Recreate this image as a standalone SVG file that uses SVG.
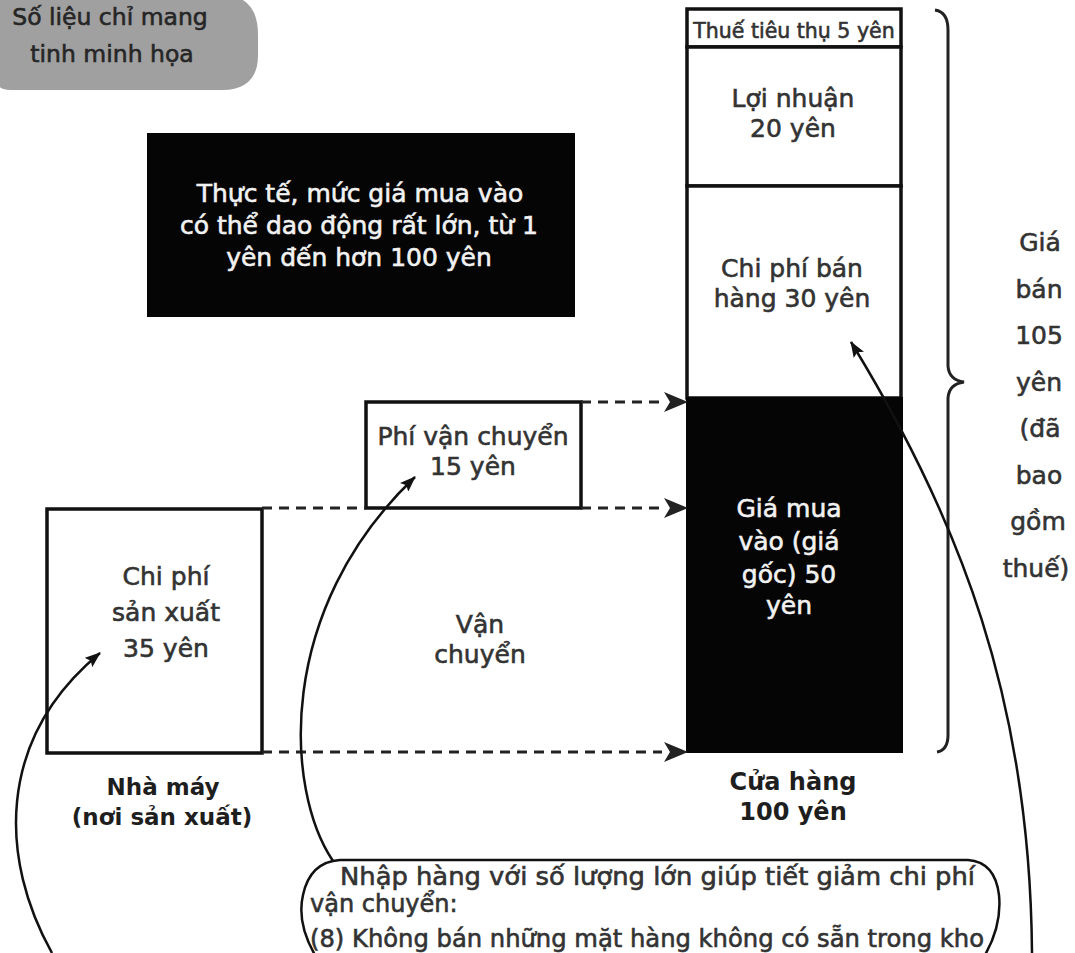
<svg xmlns="http://www.w3.org/2000/svg" width="1075" height="953" viewBox="0 0 1075 953">
<defs>
<style>
text{font-family:"DejaVu Sans","Liberation Sans",sans-serif;fill:#333;stroke:#333;stroke-width:0.6;}
.c{text-anchor:middle;}
.t25{font-size:25px;}
.w{fill:#f2f2f2;stroke:#f2f2f2;}
.b{font-weight:bold;fill:#1e1e1e;stroke:none;font-size:23px;}
.box{fill:#fff;stroke:#111;stroke-width:3.5;}
.dash{fill:none;stroke:#222;stroke-width:3;stroke-dasharray:10 7;}
.curve{fill:none;stroke:#111;stroke-width:2.5;}
</style>
<marker id="ah" viewBox="0 0 24 20" refX="23" refY="10" markerWidth="24" markerHeight="20" markerUnits="userSpaceOnUse" orient="auto">
<path d="M0 0 L24 10 L0 20 L6 10 Z" fill="#222"/>
</marker>
<marker id="ahs" viewBox="0 0 16 12" refX="15" refY="6" markerWidth="16" markerHeight="12" markerUnits="userSpaceOnUse" orient="auto">
<path d="M0 0 L16 6 L0 12 L3 6 Z" fill="#111"/>
</marker>
</defs>
<rect width="1075" height="953" fill="#fff"/>

<g id="note">
<path d="M-5 -5 H222 Q258 -5 258 35 V55 Q258 90 222 90 H10 Q-5 90 -5 75 Z" fill="#a0a0a0"/>
<text class="c" x="110" y="25" font-size="23.5" style="fill:#262626;stroke:#262626">Số liệu chỉ mang</text>
<text class="c" x="112" y="62" font-size="23.5" style="fill:#262626;stroke:#262626">tinh minh họa</text>
</g>

<g id="fact">
<rect x="147" y="133" width="428" height="184" fill="#050505"/>
<text class="c t25 w" x="360" y="202">Thực tế, mức giá mua vào</text>
<text class="c t25 w" x="359" y="234">có thể dao động rất lớn, từ 1</text>
<text class="c t25 w" x="359" y="266">yên đến hơn 100 yên</text>
</g>

<g id="tax">
<rect class="box" x="687" y="9" width="214" height="38"/>
<text class="c" x="794" y="38" font-size="20.5">Thuế tiêu thụ 5 yên</text>
</g>

<g id="profit">
<rect class="box" x="687" y="47" width="214" height="139"/>
<text class="c t25" x="793" y="107">Lợi nhuận</text>
<text class="c t25" x="793" y="137">20 yên</text>
</g>

<g id="selling">
<rect class="box" x="687" y="186" width="214" height="212"/>
<text class="c t25" x="792" y="277">Chi phí bán</text>
<text class="c t25" x="792" y="307">hàng 30 yên</text>
</g>

<g id="purchase">
<rect x="686" y="397" width="217" height="356" fill="#050505"/>
<text class="c t25 w" x="789" y="517">Giá mua</text>
<text class="c t25 w" x="789" y="550">vào (giá</text>
<text class="c t25 w" x="789" y="583">gốc) 50</text>
<text class="c t25 w" x="789" y="614">yên</text>
</g>

<g id="store-label">
<text class="c b" x="793" y="790" style="font-size:24px">Cửa hàng</text>
<text class="c b" x="793" y="820" style="font-size:24px">100 yên</text>
</g>

<g id="price-brace">
<path d="M935 10 Q948 12 948 30 L948 366 Q949 380 964 382 Q949 384 948 398 L948 735 Q948 750 937 752" fill="none" stroke="#222" stroke-width="3"/>
<text class="c" font-size="25" x="1040" y="251">Giá</text>
<text class="c" font-size="25" x="1039" y="298">bán</text>
<text class="c" font-size="25" x="1039" y="344">105</text>
<text class="c" font-size="25" x="1039" y="391">yên</text>
<text class="c" font-size="25" x="1040" y="437">(đã</text>
<text class="c" font-size="25" x="1039" y="484">bao</text>
<text class="c" font-size="25" x="1038" y="530">gồm</text>
<text class="c" font-size="25" x="1036" y="577">thuế)</text>
</g>

<g id="shipping-fee">
<rect class="box" x="366" y="402" width="215" height="106"/>
<text class="c t25" x="473" y="445">Phí vận chuyển</text>
<text class="c t25" x="473" y="475">15 yên</text>
</g>

<g id="production">
<rect class="box" x="47" y="509" width="215" height="244"/>
<text class="c t25" x="166" y="585">Chi phí</text>
<text class="c t25" x="166" y="621">sản xuất</text>
<text class="c t25" x="166" y="657">35 yên</text>
</g>

<g id="factory-label">
<text class="c b" x="163" y="795">Nhà máy</text>
<text class="c b" x="162" y="825">(nơi sản xuất)</text>
</g>

<g id="transport-label">
<text class="c t25" x="480" y="633">Vận</text>
<text class="c t25" x="480" y="663">chuyển</text>
</g>

<g id="bubble">
<path d="M318 960 Q296 925 303 895 Q310 862 340 860 L968 860 Q995 862 999 895 Q1002 925 985 955" fill="#fff" stroke="#111" stroke-width="2.5"/>
<text x="340" y="885" font-size="24" textLength="635" lengthAdjust="spacingAndGlyphs">Nhập hàng với số lượng lớn giúp tiết giảm chi phí</text>
<text x="310" y="912" font-size="24">vận chuyển:</text>
<text x="310" y="947" font-size="24" textLength="674" lengthAdjust="spacingAndGlyphs">(8) Không bán những mặt hàng không có sẵn trong kho</text>
</g>

<g id="connectors">
<path class="dash" d="M581 402 H662"/>
<path d="M662 402 L687 402" stroke="none" fill="none" marker-end="url(#ah)"/>
<path class="dash" d="M262 508 H366"/>
<path class="dash" d="M581 508 H662"/>
<path d="M662 508 L687 508" stroke="none" fill="none" marker-end="url(#ah)"/>
<path class="dash" d="M262 752 H662"/>
<path d="M662 752 L687 752" stroke="none" fill="none" marker-end="url(#ah)"/>
<path class="curve" d="M52 953 C0 860 -5 740 100 653" marker-end="url(#ahs)"/>
<path class="curve" d="M333 861 C285 790 275 610 415 477" marker-end="url(#ahs)"/>
<path class="curve" d="M1032 953 C1030 700 960 520 851 342" marker-end="url(#ahs)"/>
</g>
</svg>
